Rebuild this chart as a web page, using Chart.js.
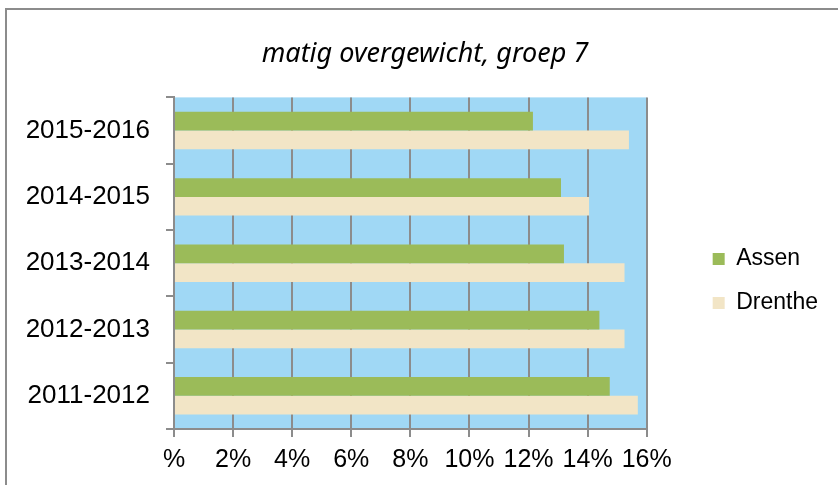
<!DOCTYPE html>
<html>
<head>
<meta charset="utf-8">
<script src="https://cdn.jsdelivr.net/npm/chart.js@4.4.1/dist/chart.umd.min.js"></script>
<style>
  html, body { margin: 0; padding: 0; background: #fff; }
  canvas { display: block; }
</style>
</head>
<body>
<canvas id="chart" width="838" height="485"></canvas>
<script>
const years = ['2015-2016', '2014-2015', '2013-2014', '2012-2013', '2011-2012'];
const assen = [12.15, 13.1, 13.2, 14.4, 14.75];
const drenthe = [15.4, 14.05, 15.25, 15.25, 15.7];
const xTicks = [0, 2, 4, 6, 8, 10, 12, 14, 16];

const gridGray = '#8c8c8c';

// frame + blue plot background
const backdrop = {
  id: 'backdrop',
  beforeDraw(chart) {
    const { ctx, chartArea } = chart;
    ctx.save();
    ctx.fillStyle = gridGray;
    ctx.fillRect(5, 8, 2, chart.height);
    ctx.fillRect(5, 8, chart.width, 2);
    ctx.fillStyle = '#a0d8f5';
    ctx.fillRect(chartArea.left, chartArea.top, chartArea.right - chartArea.left, chartArea.bottom - chartArea.top);
    ctx.restore();
  }
};

// legend sits further from the plot, title is centred on the whole frame
const layoutNudge = {
  id: 'layoutNudge',
  afterLayout(chart) {
    const lg = chart.legend;
    lg.left = chart.chartArea.right + 45;
    lg.right = chart.width;
    lg.width = lg.right - lg.left;
    lg.top = chart.chartArea.top + 129;
    lg.bottom = chart.height;
    lg.height = lg.bottom - lg.top;

    const tb = chart.titleBlock;
    tb.left = 12;
    tb.right = chart.width;
    tb.width = tb.right - tb.left;
  }
};

new Chart(document.getElementById('chart'), {
  type: 'bar',
  data: {
    labels: years,
    datasets: [
      { label: 'Assen', data: assen, backgroundColor: '#9bbb59' },
      { label: 'Drenthe', data: drenthe, backgroundColor: '#f2e5c6' }
    ]
  },
  options: {
    indexAxis: 'y',
    responsive: false,
    animation: false,
    layout: { padding: { left: 12, right: 55, top: 0, bottom: 10 } },
    datasets: { bar: { categoryPercentage: 0.565, barPercentage: 1 } },
    scales: {
      x: {
        min: 0,
        max: 16,
        afterBuildTicks: s => { s.ticks = xTicks.map(v => ({ value: v })); },
        afterFit: s => { s.height = 46; },
        grid: { color: gridGray, lineWidth: 2, tickLength: 8 },
        border: { color: gridGray, width: 2 },
        ticks: {
          padding: 8,
          color: '#000',
          font: { family: 'Liberation Sans', size: 25 },
          callback: v => (v === 0 ? '%' : v + '%')
        }
      },
      y: {
        afterFit: s => { s.width = 162; },
        grid: { offset: true, drawOnChartArea: false, color: gridGray, lineWidth: 2, tickLength: 8 },
        border: { color: gridGray, width: 2 },
        ticks: {
          padding: 16,
          color: '#000',
          font: { family: 'Liberation Sans', size: 26 }
        }
      }
    },
    plugins: {
      title: {
        display: true,
        text: 'matig overgewicht, groep 7',
        color: '#000',
        font: { family: 'Noto Sans', size: 27, style: 'italic', weight: 'normal' },
        padding: { top: 38, bottom: 27 }
      },
      legend: {
        position: 'right',
        align: 'start',
        fullSize: false,
        labels: {
          boxWidth: 12,
          boxHeight: 12,
          padding: 21,
          color: '#000',
          font: { family: 'Liberation Sans', size: 23 }
        }
      },
      tooltip: { enabled: false }
    }
  },
  plugins: [backdrop, layoutNudge]
});
</script>
</body>
</html>
